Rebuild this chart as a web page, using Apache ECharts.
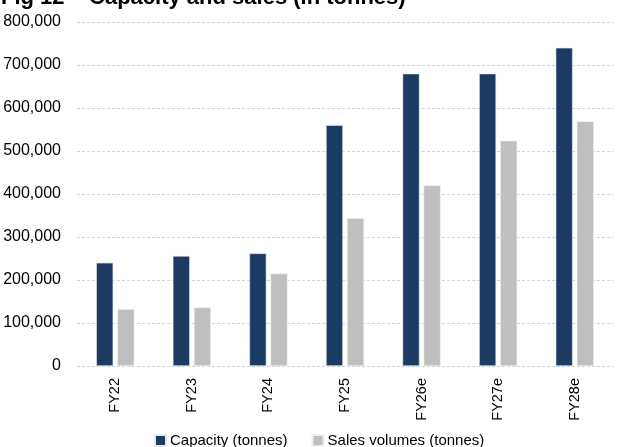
<!DOCTYPE html>
<html><head><meta charset="utf-8">
<script src="https://cdn.jsdelivr.net/npm/echarts@6/dist/echarts.min.js"></script>
<style>html,body{margin:0;padding:0;background:#fff}#c{width:620px;height:447px}</style>
</head><body><div id="c"></div>
<script>
var categories = ['FY22','FY23','FY24','FY25','FY26e','FY27e','FY28e'];
var capacity = [240000, 256000, 262000, 560000, 680000, 680000, 740000];
var sales = [132000, 136000, 215000, 344000, 420000, 524000, 569000];
var yTicks = [0,100000,200000,300000,400000,500000,600000,700000,800000];
var seriesNames = ['Capacity (tonnes)','Sales volumes (tonnes)'];
var titleText = 'Fig 12 \u2013 Capacity and sales (in tonnes)';

var chart = echarts.init(document.getElementById('c'));
var font = 'Liberation Sans, Arial, sans-serif';
chart.setOption({
  animation:false,
  textStyle:{fontFamily:font},
  title:{text:titleText,left:-4,top:-18,textStyle:{fontFamily:font,fontWeight:'bold',fontSize:22,color:'#000'}},
  legend:{bottom:-6,left:149,itemWidth:11,itemHeight:11,itemGap:24,icon:'rect',
    textStyle:{fontFamily:font,fontSize:15,color:'#000',padding:[0,0,0,-1]},data:seriesNames},
  grid:{left:77,right:7,top:22,bottom:81,containLabel:false},
  xAxis:{type:'category',data:categories,
    axisLine:{show:false},axisTick:{show:false},
    axisLabel:{rotate:90,fontSize:14.5,color:'#000',margin:12,fontFamily:font}},
  yAxis:{type:'value',min:yTicks[0],max:yTicks[yTicks.length-1],interval:100000,
    axisLine:{show:false},axisTick:{show:false},
    splitLine:{show:true,lineStyle:{type:[3,2],color:'#d4d4d4',width:1}},
    axisLabel:{fontSize:16,color:'#000',margin:16,fontFamily:font,
      formatter:function(v){return v.toLocaleString('en-US');}}},
  series:[
    {name:seriesNames[0],type:'bar',data:capacity,barWidth:17,barGap:'24%',
      itemStyle:{color:'#1b3b62',borderColor:'#e6e6e6',borderWidth:0.6}},
    {name:seriesNames[1],type:'bar',data:sales,barWidth:17,
      itemStyle:{color:'#bfbfbf',borderColor:'#eeeeee',borderWidth:0.6}}
  ]
});
</script></body></html>
